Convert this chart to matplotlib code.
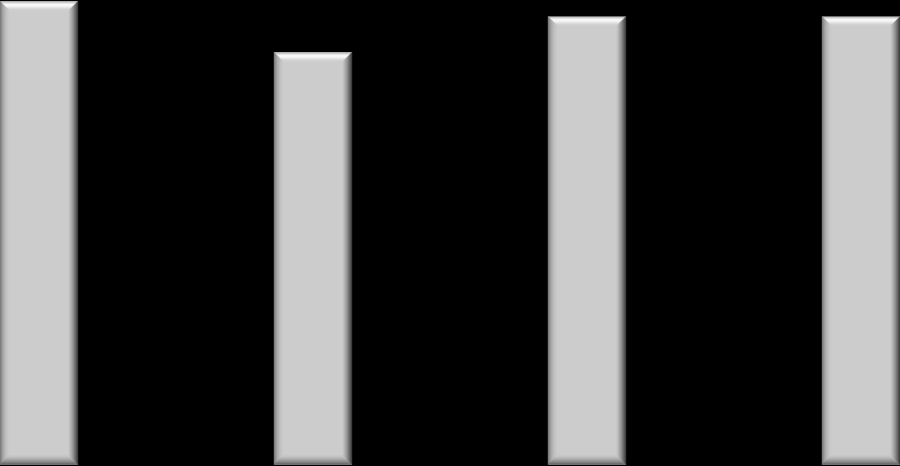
import matplotlib
matplotlib.use("Agg")
import matplotlib.pyplot as plt
from matplotlib.patches import Polygon
import numpy as np

categories = ["A", "B", "C", "D"]
values = [10.34, 9.2, 10.0, 10.0]

fig = plt.figure(figsize=(9, 4.66), dpi=100, facecolor="black")
ax = fig.add_axes([0, 0, 1, 1])
ax.set_facecolor("black")
x = np.arange(len(categories))
bars = ax.bar(x, values, width=78 / 274, color="#cccccc", edgecolor="none", zorder=2)
ax.set_xlim(-39 / 274, len(categories) - 1 + 39 / 274)
ax.set_ylim(-0.03, 10.37)
ax.axis("off")

top_c = ["#a8a8a8", "#d4d4d4", "#eeeeee", "#ffffff", "#fbfbfb", "#f2f2f2", "#e6e6e6", "#dadada", "#d1d1d1"]
left_c = ["#7a7a7a", "#8c8c8c", "#9c9c9c", "#a8a8a8", "#b2b2b2", "#bababa", "#c0c0c0", "#c5c5c5", "#c9c9c9"]
right_c = ["#3c3c3c", "#505050", "#646464", "#767676", "#888888", "#989898", "#a6a6a6", "#b2b2b2", "#bfbfbf"]
bot_c = ["#5a5a5a", "#6c6c6c", "#7c7c7c", "#8c8c8c", "#9a9a9a", "#a6a6a6", "#b2b2b2", "#bcbcbc", "#c5c5c5"]

fig.canvas.draw()
inv = ax.transData.inverted()
for b in bars:
    (x0, y0), (x1, y1) = ax.transData.transform([(b.get_x(), b.get_y()), (b.get_x() + b.get_width(), b.get_y() + b.get_height())])
    n = len(top_c)
    for i in range(n):
        o = i
        p = i + 1
        ox0, oy0, ox1, oy1 = x0 + o, y0 + o, x1 - o, y1 - o
        ix0, iy0, ix1, iy1 = x0 + p, y0 + p, x1 - p, y1 - p
        quads = [
            ([(ox0, oy1), (ox1, oy1), (ix1, iy1), (ix0, iy1)], top_c[i]),
            ([(ox0, oy0), (ox0, oy1), (ix0, iy1), (ix0, iy0)], left_c[i]),
            ([(ox1, oy0), (ox1, oy1), (ix1, iy1), (ix1, iy0)], right_c[i]),
            ([(ox0, oy0), (ox1, oy0), (ix1, iy0), (ix0, iy0)], bot_c[i]),
        ]
        for pts, c in quads:
            ax.add_patch(Polygon(inv.transform(pts), closed=True, facecolor=c,
                                 edgecolor=c, linewidth=0.3, zorder=3))

fig.savefig("out.png", dpi=100, facecolor="black")
